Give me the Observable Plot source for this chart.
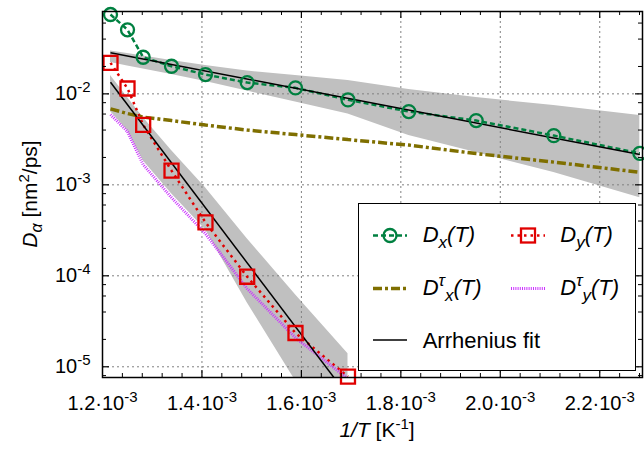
<!DOCTYPE html>
<html><head><meta charset="utf-8">
<script src="https://cdn.jsdelivr.net/npm/d3@7"></script>
<script src="https://cdn.jsdelivr.net/npm/@observablehq/plot@0.6"></script>
<style>
body{margin:0;background:#fff;}
#wrap{position:relative;width:644px;height:449px;font-family:"Liberation Sans",Arial,Helvetica,sans-serif;}
#legend{position:absolute;left:358px;top:203px;width:276px;height:166px;border:1px solid #000;background:#fff;}
</style></head><body><div id="wrap"></div>
<script>
// ---- data (1/T in K^-1, D in nm^2/ps) ----
const invT = [1.2161e-3, 1.2503e-3, 1.2818e-3, 1.3388e-3, 1.4071e-3, 1.4910e-3, 1.5881e-3, 1.6937e-3, 1.8160e-3, 1.9515e-3, 2.1076e-3, 2.2806e-3];
const Dx = [0.07455, 0.05059, 0.02527, 0.02012, 0.01631, 0.01331, 0.01164, 0.00859, 0.006389, 0.005084, 0.003477, 0.002221];
const Dy = [0.02193, 0.01145, 0.00456, 0.001432, 3.87e-4, 9.77e-5, 2.35e-5, 7.8e-6];
const DtauX = [0.006839, 0.006071, 0.005555, 0.005084, 0.004537, 0.003998, 0.003566, 0.003143, 0.002733, 0.002204, 0.001777, 0.001373];
const DtauY = [0.00592, 0.003848, 0.001668, 7.231e-4, 2.904e-4, 7.21e-5, 2.084e-5, 7.38e-6];
const bandXLo = [0.02210, 0.02021, 0.01874, 0.01631, 0.01366, 0.01074, 0.008124, 0.005995, 0.003477, 0.002261, 0.001362, 0.000723];
const bandXHi = [0.02957, 0.02775, 0.02605, 0.02324, 0.02048, 0.01781, 0.01590, 0.01401, 0.01115, 0.009107, 0.007433, 0.005772];
const bandYLo = [0.006389, 0.003947, 0.001845, 8.0e-4, 3.216e-4, 5.06e-5, 7.01e-6, 7.18e-7];
const bandYHi = [0.01590, 0.009107, 0.005486, 0.002378, 9.315e-4, 2.559e-4, 6.195e-5, 1.390e-5];
const fitXT = [1.2161e-3, 2.2806e-3];
const fitXD = [0.02835, 0.002149];
const fitYT = [1.2161e-3, 1.6937e-3];
const fitYD = [0.01341, 4.76e-6];
const xTicks = [1.2e-3, 1.4e-3, 1.6e-3, 1.8e-3, 2.0e-3, 2.2e-3];
const yTicks = [1e-2, 1e-3, 1e-4, 1e-5];
const legendLabels = ["D_x(T)", "D_y(T)", "D^τ_x(T)", "D^τ_y(T)", "Arrhenius fit"];

// ---- styles ----
const green = "#008040", red = "#e00000", olive = "#7f6f00", magenta = "#cc33ff";
const W = 644, H = 449, mL = 102, mR = 2, mT = 11, mB = 72;
const pw = W - mL - mR, ph = H - mT - mB;
const lineStyles = {
  dx: {stroke: green, strokeWidth: 2.5, strokeDasharray: "5,3"},
  dy: {stroke: red, strokeWidth: 2.5, strokeDasharray: "2.5,4"},
  dtx: {stroke: olive, strokeWidth: 3.5, strokeDasharray: "9,3,3,3"},
  dty: {stroke: magenta, strokeWidth: 3, strokeDasharray: "1,1.2"},
  fit: {stroke: "#000", strokeWidth: 1.5}
};

const xMinor = [];
for (let i = 0; i <= 28; i++) { const v = 1.2e-3 + i * 0.04e-3; if (i % 5 !== 0 && v < 2.286e-3) xMinor.push(v); }
const yMinor = [];
for (let e = -6; e <= -2; e++) for (const m of [2, 4, 6, 8]) { const v = m * Math.pow(10, e); if (v > 7.7e-6 && v < 0.08) yMinor.push(v); }

const rows = (t, d) => t.map((v, i) => ({t: v, d: d[i]}));
const dxData = rows(invT, Dx);
const dyData = rows(invT.slice(0, 8), Dy);
const dtxData = rows(invT, DtauX);
const dtyData = rows(invT.slice(0, 8), DtauY);
const band1 = invT.map((t, i) => ({t, lo: bandXLo[i], hi: bandXHi[i]}));
const band2 = invT.slice(0, 8).map((t, i) => ({t, lo: bandYLo[i], hi: bandYHi[i]}));
const fitX = rows(fitXT, fitXD);
const fitY = rows(fitYT, fitYD);
const lineOpts = s => ({x: "t", y: "d", ...s, strokeLinecap: "butt", strokeLinejoin: "miter", clip: true});

const plot = Plot.plot({
  width: W, height: H, marginLeft: mL, marginRight: mR, marginTop: mT, marginBottom: mB,
  x: {domain: [1.2e-3, 2.286e-3], label: null},
  y: {type: "log", domain: [7.624e-6, 0.0804], label: null},
  style: {fontFamily: "'Liberation Sans', Arial, sans-serif", fontSize: "20px", background: "#fff", color: "#000", overflow: "visible"},
  marks: [
    Plot.areaY(band1, {x: "t", y1: "lo", y2: "hi", fill: "#c0c0c0", clip: true}),
    Plot.areaY(band2, {x: "t", y1: "lo", y2: "hi", fill: "#c0c0c0", clip: true}),
    Plot.ruleX(xTicks.slice(1), {stroke: "#808080", strokeWidth: 1, strokeDasharray: "2,3"}),
    Plot.ruleY(yTicks, {stroke: "#808080", strokeWidth: 1, strokeDasharray: "2,3"}),
    Plot.line(dxData, lineOpts(lineStyles.dx)),
    Plot.line(dyData, lineOpts(lineStyles.dy)),
    Plot.line(dtxData, lineOpts(lineStyles.dtx)),
    Plot.line(dtyData, lineOpts(lineStyles.dty)),
    Plot.line(fitX, lineOpts(lineStyles.fit)),
    Plot.line(fitY, lineOpts(lineStyles.fit)),
    Plot.dot(dxData, {x: "t", y: "d", r: 6.5, stroke: green, strokeWidth: 2.3, fill: "none"}),
    Plot.dot(dyData, {x: "t", y: "d", symbol: "square", r: 7.9, stroke: red, strokeWidth: 2.3, fill: "none"}),
    // inward ticks
    Plot.ruleX(xTicks.slice(1), {x: d => d, insetTop: ph - 7, strokeWidth: 1.2}),
    Plot.ruleX(xTicks.slice(1), {x: d => d, insetBottom: ph - 7, strokeWidth: 1.2}),
    Plot.ruleX(xMinor, {x: d => d, insetTop: ph - 4, strokeWidth: 1}),
    Plot.ruleX(xMinor, {x: d => d, insetBottom: ph - 4, strokeWidth: 1}),
    Plot.ruleY(yTicks, {y: d => d, insetRight: pw - 7, strokeWidth: 1.2}),
    Plot.ruleY(yTicks, {y: d => d, insetLeft: pw - 7, strokeWidth: 1.2}),
    Plot.ruleY(yMinor, {y: d => d, insetRight: pw - 4, strokeWidth: 1}),
    Plot.ruleY(yMinor, {y: d => d, insetLeft: pw - 4, strokeWidth: 1}),
    Plot.axisX(xTicks, {tickSize: 0, tickPadding: 18, fontSize: 20, label: null, tickFormat: d => (d * 1000).toFixed(1) + "·10^-3"}),
    Plot.axisY(yTicks, {tickSize: 0, tickPadding: 12, fontSize: 20, label: null, tickFormat: d => "10^" + Math.round(Math.log10(d))}),
    Plot.frame({stroke: "#000", strokeWidth: 1.5})
  ]
});

const NS = "http://www.w3.org/2000/svg";
function tspan(parent, txt, attrs) {
  const t = document.createElementNS(NS, "tspan");
  t.textContent = txt;
  for (const k in attrs) t.setAttribute(k, attrs[k]);
  parent.appendChild(t);
  return t;
}
// superscripts in tick labels
plot.querySelectorAll("text").forEach(el => {
  const s = el.textContent;
  if (s.includes("^")) {
    const [base, exp] = s.split("^");
    el.textContent = "";
    tspan(el, base, {});
    tspan(el, exp, {dy: -8, "font-size": 15});
  }
});
// axis titles
const xl = document.createElementNS(NS, "text");
xl.setAttribute("x", 377); xl.setAttribute("y", 437); xl.setAttribute("text-anchor", "middle"); xl.setAttribute("font-size", 21);
tspan(xl, "1/T", {"font-style": "italic"});
tspan(xl, " [K", {});
tspan(xl, "-1", {dy: -8, "font-size": 15});
tspan(xl, "]", {dy: 8});
plot.appendChild(xl);
const yl = document.createElementNS(NS, "text");
yl.setAttribute("transform", "translate(37,194) rotate(-90)"); yl.setAttribute("text-anchor", "middle"); yl.setAttribute("font-size", 21);
tspan(yl, "D", {"font-style": "italic"});
tspan(yl, "α", {"font-style": "italic", "font-size": 16, dy: 5});
tspan(yl, " [nm", {dy: -5});
tspan(yl, "2", {"font-size": 15, dy: -8});
tspan(yl, "/ps]", {dy: 8});
plot.appendChild(yl);

const wrap = document.getElementById("wrap");
wrap.appendChild(plot);

// ---- legend ----
const leg = document.createElement("div");
leg.id = "legend";
const ls = document.createElementNS(NS, "svg");
ls.setAttribute("width", 276); ls.setAttribute("height", 166);
ls.style.fontFamily = "'Liberation Sans', Arial, sans-serif";
leg.appendChild(ls);
wrap.appendChild(leg);
function lline(x1, x2, y, s) {
  const l = document.createElementNS(NS, "line");
  l.setAttribute("x1", x1); l.setAttribute("x2", x2); l.setAttribute("y1", y); l.setAttribute("y2", y);
  l.setAttribute("stroke", s.stroke); l.setAttribute("stroke-width", s.strokeWidth);
  if (s.strokeDasharray) l.setAttribute("stroke-dasharray", s.strokeDasharray);
  ls.appendChild(l);
}
function ltext(x, y, label) {
  const t = document.createElementNS(NS, "text");
  t.setAttribute("x", x); t.setAttribute("y", y); t.setAttribute("font-size", 22);
  ls.appendChild(t);
  if (label.startsWith("D")) {
    const m = label.match(/^D(\^(.))?_(.)(.*)$/);
    t.setAttribute("font-style", "italic");
    tspan(t, "D", {});
    let shift = 0;
    if (m[2]) { tspan(t, m[2], {dy: -9, "font-size": 17}); shift = -9; }
    tspan(t, m[3], {dy: 6 - shift, "font-size": 17});
    tspan(t, m[4], {dy: -6});
  } else {
    t.textContent = label;
  }
}
const r1 = 31.5, r2 = 84.5, r3 = 136, b1 = 37.5, b2 = 90.5, b3 = 143.5;
lline(14, 48, r1, lineStyles.dx);
const c = document.createElementNS(NS, "circle");
c.setAttribute("cx", 31); c.setAttribute("cy", r1); c.setAttribute("r", 6.5);
c.setAttribute("fill", "none"); c.setAttribute("stroke", green); c.setAttribute("stroke-width", 2.3);
ls.appendChild(c);
ltext(63.7, b1, legendLabels[0]);
lline(152, 186, r1, lineStyles.dy);
const sq = document.createElementNS(NS, "rect");
sq.setAttribute("x", 162); sq.setAttribute("y", r1 - 7); sq.setAttribute("width", 14); sq.setAttribute("height", 14);
sq.setAttribute("fill", "none"); sq.setAttribute("stroke", red); sq.setAttribute("stroke-width", 2.3);
ls.appendChild(sq);
ltext(201.3, b1, legendLabels[1]);
lline(14, 48, r2, lineStyles.dtx);
ltext(63.7, b2, legendLabels[2]);
lline(152, 186, r2, lineStyles.dty);
ltext(201.3, b2, legendLabels[3]);
lline(14, 48, r3, lineStyles.fit);
ltext(63.7, b3, legendLabels[4]);
</script></body></html>
